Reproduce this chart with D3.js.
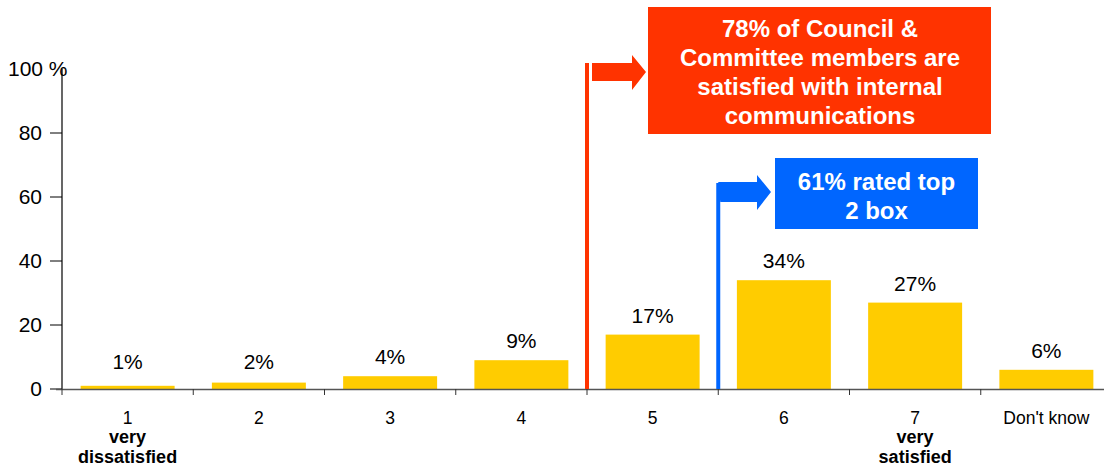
<!DOCTYPE html>
<html><head><meta charset="utf-8">
<script src="https://cdn.jsdelivr.net/npm/d3@7"></script>
<style>body{margin:0;background:#fff}svg{display:block;font-family:"Liberation Sans",Arial,sans-serif}</style>
</head><body><svg id="c" width="1104" height="466"></svg>
<script>
const categories = ["1","2","3","4","5","6","7","Don't know"];
const subLabels = [["very","dissatisfied"],[],[],[],[],[],["very","satisfied"],[]];
const values = [1,2,4,9,17,34,27,6];
const yTicks = [0,20,40,60,80,100];
const redText = ["78% of Council &","Committee members are","satisfied with internal","communications"];
const blueText = ["61% rated top","2 box"];

const svg = d3.select("#c");
const x = d3.scaleBand().domain(categories).range([62,1112]).paddingInner(0).paddingOuter(0);
const y = d3.scaleLinear().domain([0,100]).range([389,69]);
const barW = x.bandwidth()*0.716;

// bars
svg.selectAll("rect.bar").data(values).join("rect")
  .attr("x",(d,i)=>x(categories[i])+(x.bandwidth()-barW)/2)
  .attr("y",d=>y(d)).attr("width",barW).attr("height",d=>y(0)-y(d))
  .attr("fill","#FFCC00");

// value labels
svg.selectAll("text.val").data(values).join("text")
  .attr("x",(d,i)=>x(categories[i])+x.bandwidth()/2)
  .attr("y",d=>Math.min(y(d)-12,y(0)-20))
  .attr("text-anchor","middle").attr("font-size",21).attr("fill","#000")
  .text(d=>d+"%");

// y axis
svg.append("line").attr("x1",62).attr("x2",62).attr("y1",y(100)).attr("y2",y(0)).attr("stroke","#000").attr("stroke-width",1.2);
yTicks.forEach(t=>{
  if(t<100) svg.append("line").attr("x1",50).attr("x2",62).attr("y1",y(t)).attr("y2",y(t)).attr("stroke","#000");
  if(t===100){
    svg.append("text").attr("x",8).attr("y",y(t)+7).attr("font-size",21).text("100 %");
  } else {
    svg.append("text").attr("x",42).attr("y",y(t)+7).attr("text-anchor","end").attr("font-size",21).text(t);
  }
});

// x axis
svg.append("line").attr("x1",56).attr("x2",1104).attr("y1",389.5).attr("y2",389.5).attr("stroke","#555").attr("stroke-width",1.5);
categories.forEach((c,i)=>{
  const bx = x(c);
  svg.append("line").attr("x1",bx).attr("x2",bx).attr("y1",389).attr("y2",395).attr("stroke","#333");
  const cx = bx + x.bandwidth()/2;
  svg.append("text").attr("x",cx).attr("y",424).attr("text-anchor","middle").attr("font-size",17.5).text(c);
  subLabels[i].forEach((s,j)=>{
    svg.append("text").attr("x",cx).attr("y",443+j*20).attr("text-anchor","middle").attr("font-size",18).attr("font-weight","bold").text(s);
  });
});

// red callout
const redX = x("5");
svg.append("line").attr("x1",redX).attr("x2",redX).attr("y1",63).attr("y2",389).attr("stroke","#FF3300").attr("stroke-width",4);
svg.append("path").attr("d",`M${redX+5},63 L632,63 L632,55 L646,72 L632,90 L632,81 L${redX+5},81 Z`).attr("fill","#FF3300");
svg.append("rect").attr("x",648).attr("y",7).attr("width",343).attr("height",127).attr("fill","#FF3300");
redText.forEach((t,i)=>svg.append("text").attr("x",820).attr("y",37+i*29).attr("text-anchor","middle")
  .attr("font-size",24).attr("font-weight","bold").attr("fill","#fff").text(t));

// blue callout
const blueX = x("6");
svg.append("line").attr("x1",blueX).attr("x2",blueX).attr("y1",183).attr("y2",389).attr("stroke","#0066FF").attr("stroke-width",4);
svg.append("path").attr("d",`M${blueX},182 L757,182 L757,175 L771,192 L757,210 L757,202 L${blueX+2},202 Z`).attr("fill","#0066FF");
svg.append("rect").attr("x",775).attr("y",158).attr("width",203).attr("height",71).attr("fill","#0066FF");
blueText.forEach((t,i)=>svg.append("text").attr("x",876.5).attr("y",190+i*29).attr("text-anchor","middle")
  .attr("font-size",24).attr("font-weight","bold").attr("fill","#fff").text(t));
</script></body></html>
